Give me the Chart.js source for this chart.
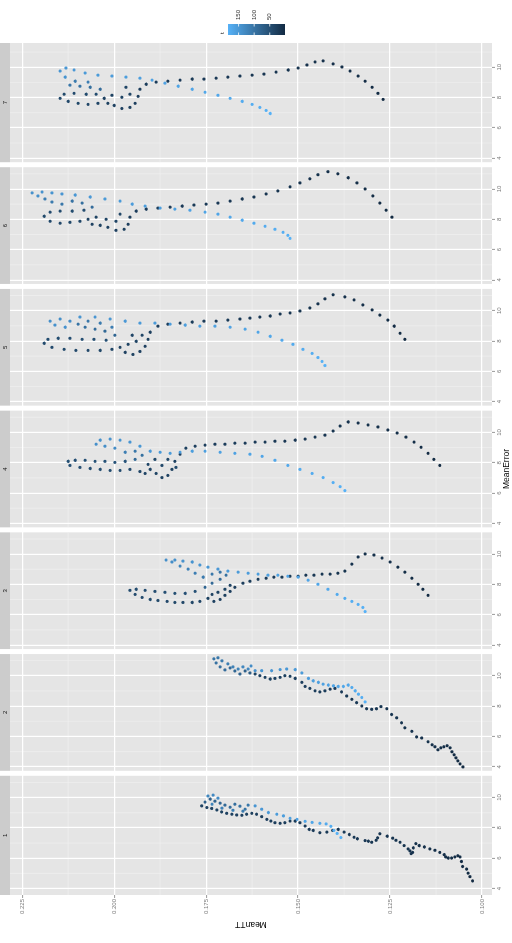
<!DOCTYPE html>
<html>
<head>
<meta charset="utf-8">
<title>MeanTT vs MeanError</title>
<script src="https://cdn.jsdelivr.net/npm/chart.js@4.4.1/dist/chart.umd.min.js"></script>
<style>
  html, body { margin: 0; padding: 0; background: #fff; width: 512px; height: 943px; overflow: hidden; }
  /* the plot is drawn in ggplot orientation and turned a quarter turn to the left */
  #wrap { position: absolute; left: 0; top: 0; width: 943px; height: 512px;
          transform-origin: 0 0; transform: translate(0px, 943px) rotate(-90deg); }
</style>
</head>
<body>
<div id="wrap"><canvas id="chart" width="943" height="512"></canvas></div>
<script>
// each point: [MeanTT, MeanError, step]
const facet1 = [
  [0.1026,4.50,1],[0.1033,4.78,1],[0.1038,5.01,2],[0.1042,5.28,2],[0.1053,5.45,3],[0.1056,5.78,3],[0.1060,6.08,4],[0.1066,6.16,4],
  [0.1074,6.08,5],[0.1083,6.01,5],[0.1092,6.01,6],[0.1099,6.08,6],[0.1103,6.23,7],[0.1115,6.38,7],[0.1128,6.52,8],[0.1142,6.61,8],
  [0.1157,6.74,9],[0.1171,6.83,9],[0.1180,6.96,10],[0.1187,6.68,10],[0.1189,6.38,11],[0.1193,6.30,11],[0.1196,6.48,12],[0.1201,6.61,12],
  [0.1212,6.83,13],[0.1223,7.05,13],[0.1234,7.18,14],[0.1243,7.32,14],[0.1258,7.45,15],[0.1278,7.61,15],[0.1284,7.34,16],[0.1288,7.18,16],
  [0.1300,7.05,17],[0.1309,7.12,17],[0.1318,7.16,18],[0.1339,7.28,18],[0.1348,7.38,19],[0.1361,7.56,19],[0.1375,7.72,20],[0.1391,7.90,20],
  [0.1406,7.83,21],[0.1422,7.72,21],[0.1441,7.68,22],[0.1459,7.83,22],[0.1470,7.90,23],[0.1481,8.12,23],[0.1495,8.34,24],[0.1508,8.45,24],
  [0.1522,8.45,25],[0.1536,8.34,25],[0.1549,8.30,26],[0.1563,8.34,26],[0.1574,8.45,27],[0.1585,8.56,27],[0.1599,8.74,28],[0.1613,8.90,28],
  [0.1626,8.96,29],[0.1640,8.90,29],[0.1653,8.83,30],[0.1667,8.85,30],[0.1680,8.90,31],[0.1694,8.96,31],[0.1708,9.05,32],[0.1721,9.18,32],
  [0.1735,9.28,33],[0.1748,9.34,33],[0.1762,9.45,34],
  [0.1753,9.70,70],[0.1739,9.90,74],[0.1726,9.76,78],[0.1712,9.63,82],[0.1699,9.50,86],[0.1685,9.36,90],[0.1672,9.56,94],[0.1658,9.43,98],
  [0.1644,9.23,102],[0.1636,9.50,106],[0.1650,9.10,110],[0.1677,9.16,114],[0.1707,9.30,118],[0.1734,9.56,122],[0.1745,10.10,126],[0.1731,10.16,130],
  [0.1718,9.96,134],
  [0.1617,9.45,146],[0.1599,9.23,149],[0.1581,9.01,152],[0.1558,8.90,155],[0.1540,8.79,158],[0.1522,8.63,161],[0.1503,8.56,164],[0.1481,8.43,167],
  [0.1462,8.36,170],[0.1441,8.30,173],[0.1424,8.26,176],[0.1411,8.10,178],[0.1403,7.83,180],[0.1394,7.63,182],[0.1384,7.36,184]
];
const facet2 = [
  [0.1052,3.99,1],[0.1060,4.19,1],[0.1066,4.39,2],[0.1071,4.59,3],[0.1076,4.79,4],[0.1082,4.99,4],[0.1087,5.25,5],[0.1095,5.39,6],
  [0.1104,5.32,6],[0.1112,5.25,7],[0.1120,5.12,8],[0.1128,5.32,8],[0.1136,5.45,9],[0.1147,5.65,10],[0.1164,5.90,11],[0.1178,5.97,11],
  [0.1191,6.34,12],[0.1210,6.57,13],[0.1219,6.90,13],[0.1232,7.23,14],[0.1246,7.45,15],[0.1259,7.83,15],[0.1275,7.97,16],[0.1287,7.83,17],
  [0.1300,7.79,18],[0.1314,7.83,18],[0.1327,8.01,19],[0.1341,8.23,20],[0.1354,8.45,20],[0.1368,8.67,21],[0.1382,8.94,22],[0.1400,9.17,22],
  [0.1413,9.12,23],[0.1427,9.01,24],[0.1441,8.94,25],[0.1454,9.01,25],[0.1468,9.17,26],[0.1481,9.30,27],[0.1490,9.57,27],[0.1508,9.83,28],
  [0.1522,9.97,29],[0.1536,10.01,29],[0.1549,9.90,30],[0.1563,9.83,31],[0.1576,9.79,32],[0.1590,9.90,32],[0.1604,10.01,33],[0.1617,10.12,34],
  [0.1631,10.19,70],[0.1644,10.32,74],[0.1658,10.12,78],[0.1672,10.32,82],[0.1685,10.52,86],[0.1699,10.39,90],[0.1712,10.59,94],[0.1723,10.85,98],
  [0.1729,11.12,102],[0.1718,11.19,106],[0.1707,10.99,110],[0.1691,10.79,114],[0.1677,10.59,118],[0.1663,10.45,122],[0.1650,10.59,126],[0.1636,10.45,130],
  [0.1628,10.65,134],
  [0.1617,10.34,142],[0.1599,10.34,144],[0.1572,10.34,146],[0.1549,10.41,148],[0.1531,10.45,150],[0.1508,10.41,152],[0.1490,10.19,154],[0.1472,9.83,156],
  [0.1459,9.67,158],[0.1445,9.57,160],[0.1432,9.45,162],[0.1418,9.39,164],[0.1404,9.34,166],[0.1391,9.30,168],[0.1377,9.30,170],[0.1364,9.39,172],
  [0.1354,9.23,174],[0.1345,9.01,176],[0.1336,8.79,178],[0.1327,8.57,180],[0.1318,8.28,182]
];
const facet3 = [
  [0.1147,7.28,1],[0.1161,7.68,2],[0.1174,8.01,3],[0.1191,8.41,4],[0.1210,8.81,5],[0.1229,9.14,6],[0.1250,9.48,7],[0.1272,9.74,8],
  [0.1294,9.94,9],[0.1318,10.01,10],[0.1337,9.81,11],[0.1354,9.34,12],[0.1373,8.88,13],[0.1392,8.74,14],[0.1413,8.68,15],[0.1435,8.68,16],
  [0.1457,8.61,17],[0.1479,8.61,18],[0.1500,8.54,19],[0.1522,8.54,20],[0.1544,8.48,21],[0.1566,8.48,22],[0.1587,8.41,23],[0.1609,8.34,24],
  [0.1631,8.21,25],[0.1650,8.08,26],
  [0.1672,7.81,27],[0.1685,7.54,28],[0.1699,7.28,29],[0.1712,7.01,30],[0.1729,6.88,31],[0.1745,7.08,32],[0.1734,7.34,33],[0.1718,7.48,34],
  [0.1699,7.68,35],[0.1685,7.94,36],
  [0.1767,6.88,37],[0.1788,6.81,38],[0.1813,6.81,39],[0.1835,6.81,40],[0.1856,6.88,41],[0.1881,6.94,42],[0.1902,7.01,43],[0.1924,7.14,44],
  [0.1943,7.34,45],[0.1957,7.61,46],[0.1940,7.68,47],[0.1916,7.61,48],[0.1889,7.54,49],[0.1862,7.48,50],[0.1835,7.41,51],[0.1807,7.41,52],
  [0.1780,7.54,53],
  [0.1753,7.81,80],[0.1734,8.08,85],[0.1712,8.34,90],[0.1696,8.61,95],[0.1712,8.81,100],[0.1734,8.68,105],[0.1758,8.48,110],[0.1780,8.74,115],
  [0.1799,9.01,120],[0.1821,9.21,125],
  [0.1843,9.48,136],[0.1859,9.61,138],[0.1835,9.61,140],[0.1813,9.54,142],[0.1788,9.48,144],[0.1767,9.28,146],[0.1745,9.14,148],[0.1718,9.01,150],
  [0.1691,8.88,152],[0.1663,8.81,154],[0.1636,8.74,156],[0.1609,8.68,158],[0.1582,8.61,160],[0.1555,8.61,162],[0.1528,8.54,164],[0.1500,8.48,166],
  [0.1473,8.28,168],[0.1446,8.01,170],[0.1419,7.68,172],[0.1394,7.34,174],[0.1373,7.08,176],[0.1354,6.88,178],[0.1337,6.68,180],[0.1324,6.48,182],
  [0.1318,6.21,184]
];
const facet4 = [
  [0.1115,7.82,1],[0.1131,8.22,2],[0.1147,8.62,3],[0.1166,9.02,4],[0.1185,9.36,5],[0.1207,9.69,6],[0.1231,9.96,7],[0.1256,10.16,8],
  [0.1283,10.36,9],[0.1310,10.49,10],[0.1337,10.62,11],[0.1364,10.69,12],[0.1386,10.42,13],[0.1405,10.09,14],[0.1427,9.82,15],[0.1454,9.69,16],
  [0.1481,9.56,17],[0.1508,9.49,18],[0.1536,9.42,19],[0.1563,9.42,20],[0.1590,9.36,21],[0.1617,9.36,22],[0.1644,9.29,23],[0.1672,9.29,24],
  [0.1699,9.22,25],[0.1726,9.22,26],[0.1753,9.16,27],[0.1780,9.09,28],[0.1805,8.96,29],
  [0.1821,8.56,30],[0.1835,8.09,31],[0.1843,7.56,32],[0.1854,7.16,33],[0.1870,7.02,34],[0.1886,7.29,35],[0.1902,7.56,36],[0.1916,7.29,37],
  [0.1930,7.42,38],[0.1908,7.89,39],[0.1889,8.22,40],[0.1870,7.82,41],[0.1854,8.22,42],[0.1832,7.69,43],
  [0.1957,7.56,44],[0.1984,7.49,45],[0.2011,7.49,46],[0.2038,7.56,47],[0.2065,7.62,48],[0.2093,7.69,49],[0.2120,7.82,50],[0.2125,8.09,51],
  [0.2106,8.16,52],[0.2079,8.16,53],[0.2052,8.09,54],[0.2025,8.09,55],[0.1998,8.02,56],[0.1970,8.09,57],
  [0.1943,8.22,85],[0.1924,8.49,95],[0.1943,8.76,105],[0.1970,8.69,115],
  [0.1998,8.96,134],[0.2025,9.09,136],[0.2049,9.22,138],[0.2038,9.49,140],[0.2011,9.56,142],[0.1984,9.49,144],[0.1957,9.36,146],[0.1930,9.09,148],
  [0.1902,8.76,150],[0.1875,8.69,152],[0.1848,8.62,154],[0.1821,8.69,156],[0.1788,8.76,158],[0.1753,8.76,160],[0.1712,8.69,162],[0.1672,8.62,164],
  [0.1631,8.56,166],[0.1598,8.42,168],[0.1563,8.16,170],[0.1528,7.82,172],[0.1495,7.56,174],[0.1462,7.29,176],[0.1432,7.02,178],[0.1405,6.69,180],
  [0.1386,6.42,182],[0.1373,6.16,184]
];
const facet5 = [
  [0.1210,8.11,1],[0.1223,8.51,2],[0.1239,8.98,3],[0.1256,9.38,4],[0.1278,9.71,5],[0.1299,10.05,6],[0.1324,10.38,7],[0.1348,10.71,8],
  [0.1373,10.91,9],[0.1405,11.05,10],[0.1427,10.78,11],[0.1446,10.45,12],[0.1468,10.18,13],[0.1495,9.98,14],[0.1522,9.85,15],[0.1549,9.78,16],
  [0.1576,9.65,17],[0.1604,9.58,18],[0.1631,9.51,19],[0.1658,9.45,20],[0.1691,9.38,21],[0.1723,9.31,22],[0.1756,9.31,23],[0.1788,9.25,24],
  [0.1821,9.18,25],[0.1854,9.11,26],[0.1881,8.98,27],
  [0.1902,8.58,28],[0.1908,8.11,29],[0.1916,7.65,30],[0.1930,7.31,31],[0.1949,7.11,32],[0.1970,7.25,33],[0.1984,7.58,34],[0.1962,7.78,35],
  [0.1940,7.98,36],[0.1924,8.38,37],[0.1951,8.38,38],
  [0.2006,7.45,39],[0.2038,7.38,40],[0.2071,7.38,41],[0.2104,7.38,42],[0.2136,7.45,43],[0.2169,7.58,44],[0.2190,7.85,45],[0.2180,8.11,46],
  [0.2152,8.18,47],[0.2120,8.18,48],[0.2087,8.11,49],[0.2055,8.11,50],[0.2022,8.05,51],
  [0.1998,8.38,80],[0.2025,8.65,85],[0.2052,8.78,90],[0.2079,8.91,95],[0.2098,9.11,100],[0.2071,9.31,105],[0.2038,9.18,110],[0.2006,8.91,115],
  [0.2120,9.31,134],[0.2147,9.45,136],[0.2174,9.31,138],[0.2161,9.05,140],[0.2133,8.91,142],[0.2093,9.58,144],[0.2052,9.58,146],[0.2011,9.45,148],
  [0.1970,9.31,150],[0.1930,9.18,152],[0.1889,9.18,154],[0.1848,9.11,156],[0.1807,9.05,158],[0.1767,8.98,160],[0.1726,8.98,162],[0.1685,8.91,164],
  [0.1644,8.78,166],[0.1609,8.58,168],[0.1576,8.31,170],[0.1544,8.05,172],[0.1514,7.78,174],[0.1487,7.45,176],[0.1462,7.18,178],[0.1446,6.91,180],
  [0.1435,6.65,182],[0.1427,6.38,184]
];
const facet6 = [
  [0.1245,8.14,1],[0.1261,8.60,2],[0.1278,9.07,3],[0.1297,9.54,4],[0.1318,10.00,5],[0.1340,10.40,6],[0.1364,10.74,7],[0.1392,11.00,8],
  [0.1419,11.14,9],[0.1446,10.94,10],[0.1468,10.67,11],[0.1495,10.40,12],[0.1522,10.14,13],[0.1555,9.87,14],[0.1587,9.67,15],[0.1620,9.47,16],
  [0.1652,9.34,17],[0.1685,9.20,18],[0.1718,9.07,19],[0.1750,9.00,20],[0.1783,8.94,21],[0.1815,8.87,22],[0.1848,8.80,23],[0.1881,8.74,24],
  [0.1913,8.67,25],[0.1940,8.54,26],
  [0.1957,8.14,27],[0.1962,7.67,28],[0.1973,7.34,29],[0.1995,7.27,30],[0.2017,7.47,31],[0.2038,7.60,32],[0.2060,7.67,33],[0.2071,8.00,34],
  [0.2049,8.14,35],[0.2022,8.00,36],[0.1995,7.87,37],[0.1984,8.34,38],
  [0.2093,7.87,39],[0.2120,7.80,40],[0.2147,7.74,41],[0.2174,7.87,42],[0.2190,8.20,43],[0.2174,8.47,44],[0.2147,8.54,45],[0.2114,8.54,46],
  [0.2082,8.60,47],
  [0.2060,8.80,90],[0.2087,9.07,95],[0.2114,9.20,100],[0.2142,9.00,105],[0.2169,9.14,110],[0.2188,9.34,115],
  [0.2207,9.54,138],[0.2223,9.74,140],[0.2196,9.80,142],[0.2169,9.74,144],[0.2142,9.67,146],[0.2106,9.60,148],[0.2065,9.47,150],[0.2025,9.34,152],
  [0.1984,9.20,154],[0.1951,9.00,156],[0.1916,8.87,158],[0.1875,8.74,160],[0.1835,8.67,162],[0.1794,8.60,164],[0.1753,8.47,166],[0.1718,8.34,168],
  [0.1685,8.14,170],[0.1652,7.94,172],[0.1620,7.74,174],[0.1590,7.54,176],[0.1563,7.34,178],[0.1541,7.14,180],[0.1528,6.94,182],[0.1522,6.74,184]
];
const facet7 = [
  [0.1269,7.88,1],[0.1283,8.28,2],[0.1299,8.68,3],[0.1318,9.08,4],[0.1337,9.42,5],[0.1359,9.75,6],[0.1381,10.02,7],[0.1405,10.22,8],
  [0.1432,10.42,9],[0.1454,10.35,10],[0.1476,10.15,11],[0.1500,9.95,12],[0.1527,9.82,13],[0.1560,9.68,14],[0.1593,9.55,15],[0.1625,9.48,16],
  [0.1658,9.42,17],[0.1691,9.35,18],[0.1723,9.28,19],[0.1756,9.22,20],[0.1788,9.22,21],[0.1821,9.15,22],[0.1854,9.08,23],[0.1886,9.02,24],
  [0.1913,8.88,25],
  [0.1930,8.55,26],[0.1935,8.08,27],[0.1943,7.62,28],[0.1957,7.35,29],[0.1979,7.28,30],[0.2000,7.48,31],[0.2017,7.62,32],[0.2027,7.95,33],
  [0.2006,8.15,34],[0.1979,8.02,35],[0.1957,8.22,36],[0.1968,8.68,37],
  [0.2044,7.62,38],[0.2071,7.55,39],[0.2098,7.62,40],[0.2125,7.75,41],[0.2147,7.95,42],[0.2136,8.22,43],[0.2109,8.28,44],[0.2076,8.22,45],
  [0.2049,8.22,46],
  [0.2038,8.55,90],[0.2065,8.68,95],[0.2093,8.75,100],[0.2120,8.82,105],[0.2106,9.08,110],[0.2071,9.02,115],
  [0.2133,9.35,144],[0.2147,9.75,146],[0.2131,9.95,148],[0.2109,9.82,150],[0.2079,9.62,152],[0.2044,9.48,154],[0.2006,9.42,156],[0.1968,9.35,158],
  [0.1930,9.28,160],[0.1897,9.15,162],[0.1862,8.95,164],[0.1826,8.75,166],[0.1788,8.55,168],[0.1753,8.35,170],[0.1718,8.15,172],[0.1685,7.95,174],
  [0.1652,7.75,176],[0.1625,7.55,178],[0.1604,7.35,180],[0.1587,7.15,182],[0.1576,6.95,184]
];

const facetLabels = ['1', '2', '3', '4', '5', '6', '7'];
const facetData = [facet1, facet2, facet3, facet4, facet5, facet6, facet7];
const ttTicks = [0.100, 0.125, 0.150, 0.175, 0.200, 0.225];
const ttMinor = [0.1125, 0.1375, 0.1625, 0.1875, 0.2125];
const errTicks = [4, 6, 8, 10];
const errMinor = [5, 7, 9, 11];
const legendTicks = [50, 100, 150];
const stepMin = 1, stepMax = 184;

const lowColour = [19, 43, 67];     // #132B43
const highColour = [86, 177, 247];  // #56B1F7
const fontFamily = '"Liberation Sans", Arial, sans-serif';
const panelGap = 5;

function stepColour(t) {
  const f = Math.max(0, Math.min(1, (t - stepMin) / (stepMax - stepMin)));
  const c = lowColour.map((v, i) => Math.round(v + (highColour[i] - v) * f));
  return 'rgb(' + c.join(',') + ')';
}

// panel backgrounds, minor grid and strips, drawn under the Chart.js grid
const facetPanels = {
  id: 'facetPanels',
  beforeDraw(chart) {
    const { ctx, chartArea } = chart;
    const ys = chart.scales.y;
    ctx.save();
    facetLabels.forEach((lab, i) => {
      const sx = chart.scales['x' + (i + 1)];
      const left = sx.left + (i > 0 ? panelGap / 2 : 0);
      const right = sx.right - (i < facetLabels.length - 1 ? panelGap / 2 : 0);
      ctx.fillStyle = '#E5E5E5';
      ctx.fillRect(left, chartArea.top, right - left, chartArea.bottom - chartArea.top);
      ctx.fillStyle = '#CCCCCC';
      ctx.fillRect(left, 0, right - left, chartArea.top);

      ctx.strokeStyle = '#F2F2F2';
      ctx.lineWidth = 0.6;
      ctx.beginPath();
      errMinor.forEach(v => {
        const px = sx.getPixelForValue(v);
        ctx.moveTo(px, chartArea.top);
        ctx.lineTo(px, chartArea.bottom);
      });
      ttMinor.forEach(v => {
        const py = ys.getPixelForValue(v);
        ctx.moveTo(left, py);
        ctx.lineTo(right, py);
      });
      ctx.stroke();

      ctx.fillStyle = '#1A1A1A';
      ctx.font = '6px ' + fontFamily;
      ctx.textAlign = 'center';
      ctx.textBaseline = 'middle';
      ctx.fillText(lab, (left + right) / 2, chartArea.top / 2 + 0.5);
    });
    ctx.restore();
  }
};

// continuous colour bar for the step value
const colourBar = {
  id: 'colourBar',
  afterDraw(chart) {
    const { ctx, chartArea } = chart;
    const x0 = chartArea.right + 8, w = 11, top = 228, bottom = 285;
    const yFor = t => bottom - (t - stepMin) / (stepMax - stepMin) * (bottom - top);
    ctx.save();
    const g = ctx.createLinearGradient(0, bottom, 0, top);
    g.addColorStop(0, stepColour(stepMin));
    g.addColorStop(1, stepColour(stepMax));
    ctx.fillStyle = g;
    ctx.fillRect(x0, top, w, bottom - top);

    ctx.strokeStyle = '#FFFFFF';
    ctx.lineWidth = 0.8;
    ctx.fillStyle = '#333333';
    ctx.font = '6px ' + fontFamily;
    ctx.textAlign = 'left';
    ctx.textBaseline = 'middle';
    legendTicks.forEach(t => {
      const y = yFor(t);
      ctx.beginPath();
      ctx.moveTo(x0, y); ctx.lineTo(x0 + 2.5, y);
      ctx.moveTo(x0 + w - 2.5, y); ctx.lineTo(x0 + w, y);
      ctx.stroke();
      ctx.fillText(String(t), x0 + w + 4, y);
    });
    ctx.fillStyle = '#000000';
    ctx.textBaseline = 'bottom';
    ctx.fillText('t', x0 + 1, top - 3);
    ctx.restore();
  }
};

const tickFont = { family: fontFamily, size: 6 };
const titleFont = { family: fontFamily, size: 8.5 };

const scales = {
  y: {
    type: 'linear',
    position: 'left',
    min: 0.0973,
    max: 0.2283,
    afterBuildTicks: s => { s.ticks = ttTicks.map(v => ({ value: v })); },
    afterFit: s => { s.width = 48; },
    ticks: { callback: v => Number(v).toFixed(3), font: tickFont, color: '#7F7F7F', padding: 1 },
    grid: { color: '#FFFFFF', lineWidth: 1.2, tickColor: '#7F7F7F', tickLength: 3, tickWidth: 0.8 },
    border: { display: false },
    title: { display: true, text: 'MeanTT', font: titleFont, color: '#000000', padding: { top: 14, bottom: 0 } }
  }
};
facetLabels.forEach((lab, i) => {
  scales['x' + (i + 1)] = {
    type: 'linear',
    position: 'bottom',
    stack: 'facets',
    stackWeight: 1,
    min: 3.57,
    max: 11.6,
    afterBuildTicks: s => { s.ticks = errTicks.map(v => ({ value: v })); },
    afterFit: s => { s.height = 20; },
    ticks: { callback: v => String(v), font: tickFont, color: '#7F7F7F', padding: 1, maxRotation: 0 },
    grid: { color: '#FFFFFF', lineWidth: 1.2, tickColor: '#7F7F7F', tickLength: 3, tickWidth: 0.8 },
    border: { display: false },
    title: { display: i === 3, text: 'MeanError', font: titleFont, color: '#000000', padding: { top: 0, bottom: 0 } }
  };
});

const datasets = facetData.map((rows, i) => ({
  label: facetLabels[i],
  xAxisID: 'x' + (i + 1),
  yAxisID: 'y',
  data: rows.map(r => ({ x: r[1], y: r[0], t: r[2] })),
  backgroundColor: ctx => stepColour(ctx.raw ? ctx.raw.t : stepMin),
  borderWidth: 0,
  pointRadius: 1.6,
  pointHoverRadius: 1.6
}));

new Chart(document.getElementById('chart'), {
  type: 'scatter',
  data: { datasets: datasets },
  options: {
    responsive: false,
    animation: false,
    devicePixelRatio: 1,
    layout: { padding: { top: 10, right: 43, bottom: 0, left: 0 } },
    scales: scales,
    plugins: { legend: { display: false }, tooltip: { enabled: false } }
  },
  plugins: [facetPanels, colourBar]
});
</script>
</body>
</html>
